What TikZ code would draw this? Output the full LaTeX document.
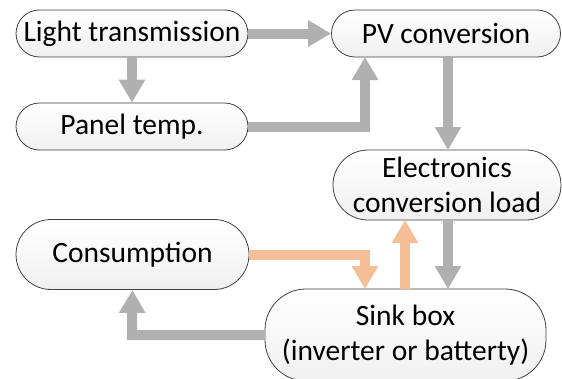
\documentclass[tikz,border=0pt]{standalone}
\usepackage{fontspec}
\setmainfont{Carlito}
\usetikzlibrary{arrows.meta}
\definecolor{arrgray}{HTML}{B0B0B0}
\definecolor{arrorange}{HTML}{F4BF96}
\definecolor{boxline}{HTML}{404040}
\tikzset{
  pill/.style={draw=boxline, line width=0.8pt, top color=white, bottom color=black!6,
    rounded corners=#1, inner sep=0pt, align=center,
    font=\fontsize{29.5}{35}\selectfont},
  pill/.default=23.5pt,
  garrow/.style={draw=arrgray, line width=10pt,
    -{Triangle[width=25pt,length=23pt]}},
  oarrow/.style={draw=arrorange, line width=10pt,
    -{Triangle[width=25pt,length=23pt]}},
}
\begin{document}
\begin{tikzpicture}[x=1pt,y=-1pt]
\useasboundingbox (0,0) rectangle (562,378);
\node[pill, minimum width=232pt, minimum height=47pt] (lt) at (132,33.5) {Light transmission};
\node[pill, minimum width=232pt, minimum height=47pt] (pt) at (132,126.5) {Panel temp.};
\node[pill, minimum width=229pt, minimum height=47pt] (pv) at (446,33.5) {PV conversion};
\node[pill=35pt, minimum width=228pt, minimum height=70pt] (el) at (447,185) {Electronics\\conversion load};
\node[pill=35pt, minimum width=233pt, minimum height=70pt] (co) at (132.5,254.5) {Consumption};
\node[pill=41pt, minimum width=281pt, minimum height=92pt] (sb) at (405.5,335) {Sink box\\(inverter or batterty)};
% connectors
\draw[garrow] (lt.east) -- (pv.west);
\draw[garrow] (lt.south) -- (pt.north);
\draw[garrow] (pt.east) -- (365,126.5) -- (365,57);
\draw[garrow] (pv.south -| 448,0) -- (448,150);
\draw[garrow] (el.south -| 448,0) -- (448,289);
\draw[oarrow] (405,289) -- (405,220);
\draw[oarrow] (co.east) -- (365,254.5) -- (365,289);
\draw[garrow] (sb.west |- 0,335) -- (132,335) -- (co.south);
\end{tikzpicture}
\end{document}
